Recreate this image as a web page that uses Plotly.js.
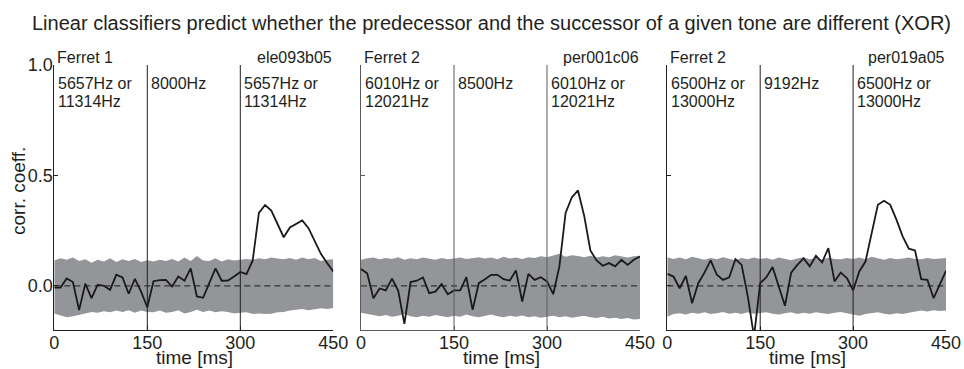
<!DOCTYPE html>
<html>
<head>
<meta charset="utf-8">
<script src="https://cdn.plot.ly/plotly-3.0.1.min.js"></script>
<style>html,body{margin:0;padding:0;background:#fff;}#chart{width:964px;height:369px;}</style>
</head>
<body>
<div id="chart"></div>
<script>
const timeMs = [0,10,20,30,40,50,60,70,80,90,100,110,120,130,140,150,160,170,180,190,200,210,220,230,240,250,260,270,280,290,300,310,320,330,340,350,360,370,380,390,400,410,420,430,440,450];
const xTicks = [0,150,300,450];
const yTicks = [0,0.5,1.0];
const yTickText = ['0.0','0.5','1.0'];

const corr1 = [-0.008,-0.008,0.033,0.017,-0.11,0.01,-0.056,0.005,0,-0.018,0.05,0.038,-0.036,0.032,-0.026,-0.097,0.021,0.026,0.027,-0.003,0.042,0.023,0.079,-0.048,-0.054,0.012,0.079,0.023,0.024,0.042,0.063,0.053,0.115,0.33,0.366,0.341,0.281,0.22,0.264,0.281,0.296,0.261,0.2,0.145,0.103,0.065];
const corr2 = [0.076,0.057,-0.056,-0.012,-0.021,0.033,-0.021,-0.172,0.017,0.023,0.038,-0.033,-0.026,0.008,-0.038,-0.021,-0.021,0.039,-0.109,0.012,0.03,0.05,0.05,0.03,0.024,0.069,-0.071,0.054,0.027,0.039,0.02,-0.038,0.088,0.33,0.40,0.432,0.317,0.16,0.115,0.091,0.103,0.088,0.118,0.095,0.118,0.133];
const corr3 = [0.054,0.042,-0.011,0.045,-0.079,0.012,0.06,0.115,0.05,0.027,0.038,0.121,0.095,-0.048,-0.23,0.012,0.039,0.085,-0.003,-0.09,0.06,0.095,0.124,0.088,0.136,0.106,0.171,0.02,0.06,0.035,-0.021,0.065,0.11,0.246,0.367,0.385,0.367,0.3,0.224,0.168,0.16,0.03,0.027,-0.056,0.005,0.068];

const up1 = [0.115,0.125,0.118,0.128,0.112,0.120,0.105,0.118,0.110,0.125,0.108,0.120,0.113,0.122,0.108,0.116,0.110,0.118,0.112,0.122,0.110,0.128,0.112,0.135,0.115,0.112,0.125,0.110,0.120,0.115,0.118,0.122,0.118,0.125,0.120,0.128,0.124,0.120,0.126,0.118,0.128,0.120,0.126,0.112,0.118,0.120];
const lo1 = [-0.125,-0.135,-0.142,-0.138,-0.130,-0.125,-0.118,-0.122,-0.115,-0.120,-0.112,-0.118,-0.110,-0.122,-0.112,-0.118,-0.120,-0.112,-0.122,-0.118,-0.110,-0.125,-0.118,-0.108,-0.118,-0.112,-0.120,-0.115,-0.118,-0.125,-0.122,-0.120,-0.128,-0.125,-0.128,-0.126,-0.120,-0.118,-0.112,-0.108,-0.105,-0.110,-0.106,-0.102,-0.105,-0.100];
const up2 = [0.118,0.125,0.128,0.120,0.126,0.122,0.130,0.118,0.125,0.120,0.128,0.122,0.118,0.126,0.120,0.124,0.128,0.122,0.126,0.130,0.124,0.128,0.120,0.132,0.124,0.128,0.122,0.130,0.126,0.134,0.130,0.138,0.145,0.132,0.138,0.135,0.130,0.136,0.128,0.134,0.130,0.138,0.132,0.128,0.134,0.136];
const lo2 = [-0.122,-0.128,-0.135,-0.138,-0.132,-0.140,-0.135,-0.128,-0.138,-0.142,-0.135,-0.140,-0.132,-0.138,-0.142,-0.136,-0.140,-0.130,-0.138,-0.142,-0.135,-0.130,-0.138,-0.142,-0.136,-0.140,-0.134,-0.142,-0.138,-0.145,-0.140,-0.136,-0.142,-0.138,-0.145,-0.140,-0.136,-0.142,-0.146,-0.140,-0.148,-0.144,-0.150,-0.146,-0.152,-0.150];
const up3 = [0.130,0.122,0.128,0.120,0.132,0.124,0.118,0.126,0.120,0.130,0.122,0.116,0.126,0.120,0.128,0.122,0.126,0.118,0.128,0.122,0.116,0.124,0.130,0.120,0.126,0.118,0.128,0.122,0.120,0.126,0.122,0.128,0.120,0.132,0.124,0.118,0.126,0.120,0.124,0.128,0.122,0.120,0.126,0.122,0.124,0.126];
const lo3 = [-0.140,-0.128,-0.124,-0.130,-0.122,-0.126,-0.120,-0.128,-0.124,-0.118,-0.126,-0.122,-0.128,-0.120,-0.126,-0.124,-0.120,-0.126,-0.130,-0.124,-0.120,-0.128,-0.122,-0.126,-0.120,-0.124,-0.128,-0.122,-0.118,-0.124,-0.130,-0.135,-0.128,-0.124,-0.120,-0.126,-0.130,-0.124,-0.128,-0.122,-0.118,-0.112,-0.116,-0.110,-0.114,-0.112];

const ferretLabels = ['Ferret 1','Ferret 2','Ferret 2'];
const unitLabels = ['ele093b05','per001c06','per019a05'];
const toneA = [['5657Hz or','11314Hz'],['6010Hz or','12021Hz'],['6500Hz or','13000Hz']];
const toneB = ['8000Hz','8500Hz','9192Hz'];
const markerTimes = [150,300];

const W = 964, H = 369;
const FONT = 'Liberation Sans, Arial, Helvetica, sans-serif';
const TXT = '#231f20';
const BAND = '#939598';
const px = v => v / W;
const py = v => 1 - v / H;
const domainsPx = [[54.3,333.3],[361,640],[667.3,946]];
const yDom = [py(330), py(65)];

const corrs = [corr1,corr2,corr3];
const ups = [up1,up2,up3];
const los = [lo1,lo2,lo3];
const lineCols = ['#231f20','#5a5a5a','#231f20'];

const data = [];
const shapes = [];
const annotations = [];
const layout = {
  width: W, height: H,
  margin: {l:0,r:0,t:0,b:0},
  paper_bgcolor: '#fff', plot_bgcolor: 'rgba(0,0,0,0)',
  showlegend: false,
  font: {family: FONT, color: TXT, size: 18},
  title: {text: 'Linear classifiers predict whether the predecessor and the successor of a given tone are different (XOR)',
          font: {family: FONT, size: 20, color: TXT}, x: 491.5/W, xanchor: 'center', xref: 'paper',
          y: 1 - 22.5/H, yref: 'container', yanchor: 'middle'},
};

for (let i = 0; i < 3; i++) {
  const sfx = i === 0 ? '' : String(i+1);
  const xa = 'x' + sfx, ya = 'y' + sfx;
  data.push({x: timeMs, y: los[i], xaxis: xa, yaxis: ya, mode: 'lines', line: {width: 0, color: BAND}, hoverinfo: 'skip'});
  data.push({x: timeMs, y: ups[i], xaxis: xa, yaxis: ya, mode: 'lines', line: {width: 0, color: BAND}, fill: 'tonexty', fillcolor: BAND, hoverinfo: 'skip'});
  data.push({x: [timeMs[0], timeMs[timeMs.length-1]], y: [0,0], xaxis: xa, yaxis: ya, mode: 'lines', line: {width: 1.2, color: '#333', dash: '6px,4px'}, hoverinfo: 'skip'});
  data.push({x: timeMs, y: corrs[i], xaxis: xa, yaxis: ya, mode: 'lines', line: {width: 1.8, color: '#1a1a1a'}});

  layout['xaxis' + sfx] = {
    domain: [px(domainsPx[i][0]), px(domainsPx[i][1])], anchor: ya,
    range: [0,450], tickvals: xTicks, ticktext: xTicks.map(String),
    showline: true, linecolor: lineCols[i], linewidth: 1, ticks: 'inside', ticklen: 4, tickcolor: lineCols[i],
    showgrid: false, zeroline: false, tickfont: {size: 18, color: TXT, family: FONT}, fixedrange: true,
    ticklabelstandoff: -4
  };
  layout['yaxis' + sfx] = {
    domain: yDom, anchor: xa,
    range: [-0.2, 1.0], tickvals: yTicks, ticktext: yTickText,
    showline: true, linecolor: lineCols[i], linewidth: 1, ticks: 'inside', ticklen: 4, tickcolor: lineCols[i],
    showgrid: false, zeroline: false, showticklabels: i === 0,
    tickfont: {size: 18, color: TXT, family: FONT}, fixedrange: true,
    ticklabelstandoff: -3
  };

  markerTimes.forEach(t => {
    shapes.push({type: 'line', xref: xa, yref: ya, x0: t, x1: t, y0: -0.2, y1: 1.0, layer: 'above',
                 line: {color: lineCols[i], width: 1}});
  });

  const x0 = domainsPx[i][0], x1 = domainsPx[i][1];
  const sc = (x1 - x0) / 450;
  annotations.push({text: ferretLabels[i], xref: 'paper', yref: 'paper', x: px(x0 + 1), y: py(57.5), xanchor: 'left', yanchor: 'middle', showarrow: false, font: {size: 16, color: TXT, family: FONT}});
  annotations.push({text: unitLabels[i], xref: 'paper', yref: 'paper', x: px(x1 + 1), y: py(57.5), xanchor: 'right', yanchor: 'middle', showarrow: false, font: {size: 16, color: TXT, family: FONT}});
  const segStarts = [0, 150, 300];
  const segLines = [toneA[i], [toneB[i]], toneA[i]];
  segStarts.forEach((s, k) => {
    segLines[k].forEach((ln, j) => {
      annotations.push({text: ln, xref: 'paper', yref: 'paper', x: px(x0 + s*sc + 2), y: py(83.5 + j*17.5), xanchor: 'left', yanchor: 'middle', showarrow: false, font: {size: 16, color: TXT, family: FONT}});
    });
  });
  annotations.push({text: 'time [ms]', xref: 'paper', yref: 'paper', x: px((x0 + x1)/2 + 1), y: py(357.5), xanchor: 'center', yanchor: 'middle', showarrow: false, font: {size: 19, color: TXT, family: FONT}});
}
annotations.push({text: 'corr. coeff.', xref: 'paper', yref: 'paper', x: px(18), y: py(191), xanchor: 'center', yanchor: 'middle', textangle: -90, showarrow: false, font: {size: 19, color: TXT, family: FONT}});

layout.shapes = shapes;
layout.annotations = annotations;

Plotly.newPlot('chart', data, layout, {displayModeBar: false, staticPlot: true});
</script>
</body>
</html>
